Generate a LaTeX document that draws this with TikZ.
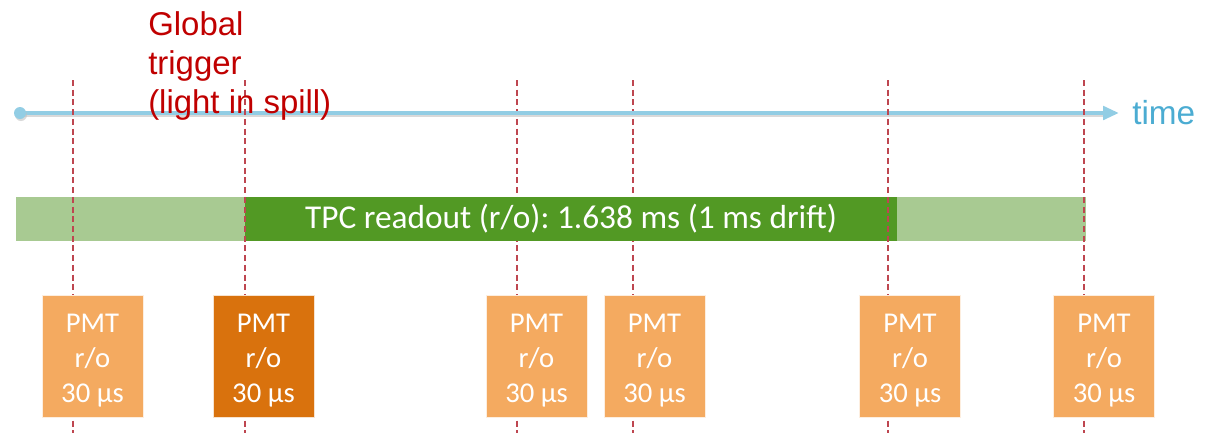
\documentclass[tikz,border=0pt]{standalone}
\usepackage{fontspec}
\setmainfont{Carlito}
\newfontfamily\arialf{Liberation Sans}
\usetikzlibrary{arrows.meta}
\frenchspacing
\definecolor{tlblue}{RGB}{146,205,228}
\definecolor{timeblue}{RGB}{75,172,210}
\definecolor{trigred}{RGB}{192,0,0}
\definecolor{dashred}{RGB}{190,70,80}
\definecolor{lightgreen}{RGB}{168,202,146}
\definecolor{darkgreen}{RGB}{82,153,36}
\definecolor{lightorange}{RGB}{244,170,96}
\definecolor{darkorange}{RGB}{217,114,13}
\tikzset{
  bar/.style={rectangle, inner sep=0pt, minimum height=33pt},
  pmtbox/.style={rectangle, inner sep=0pt, minimum width=75.75pt, minimum height=91.5pt,
    draw=white!80!lightorange, line width=0.6pt},
  pmttext/.style={text=white, align=center, inner sep=0pt,
    font=\fontsize{21.5}{26.5}\selectfont},
  marker/.style={draw=dashred, line width=1.4pt, dash pattern=on 4.5pt off 2.8pt},
}
\begin{document}
\begin{tikzpicture}[x=0.75pt,y=-0.75pt]
\useasboundingbox (0,0) rectangle (1209,433);
% markers end points
\foreach \i/\x in {1/73,2/245,3/517,4/633,5/888,6/1084}{
  \coordinate (m\i t) at (\x,80);
  \coordinate (m\i b) at (\x,433);
}
% readout bars
\node[bar, fill=lightgreen, minimum width=802.5pt] (tpcall) at (551,219) {};
\draw[marker] (m3t) -- (m3b);
\draw[marker] (m4t) -- (m4b);
\node[bar, fill=darkgreen, minimum width=489pt, text=white, font=\fontsize{25}{30}\selectfont] (tpc) at (571,219) {TPC readout (r/o): 1.638 ms (1 ms drift)};
% time axis
\coordinate (t0) at (20,113);
\coordinate (t1) at (1119,113);
\draw[black!25, opacity=0.6, line width=3pt] ([shift={(1,2)}]t0) -- ([shift={(-10,2)}]t1);
\draw[tlblue, line width=3pt, -{Triangle[length=12pt,width=10pt]}] (t0) -- (t1);
\fill[black!25, opacity=0.6] ([shift={(1,2)}]t0) circle (4.5pt);
\fill[tlblue] (t0) circle (4.5pt);
\node[anchor=west, text=timeblue, font=\arialf\fontsize{25}{30}\selectfont, inner sep=0pt] (time) at (1132,113) {time};
% remaining markers
\foreach \i in {1,2,5,6}{
  \draw[marker] (m\i t) -- (m\i b);
}
% PMT boxes
\foreach \i/\x/\c in {1/92.5/lightorange,2/263.5/darkorange,3/536.5/lightorange,4/654.5/lightorange,5/910/lightorange,6/1104/lightorange}{
  \node[pmtbox, fill=\c, draw=white!80!\c] (p\i) at (\x,356) {};
  \node[pmttext] (p\i txt) at ([yshift=-3.4pt]p\i.center) {PMT\\r/o\\30 µs};
}
% trigger label
\node[anchor=north west, text=trigred, align=left, inner sep=0pt,
  font=\arialf\fontsize{24.7}{29.2}\selectfont] (trig) at (148,11) {Global\\trigger\\(light in spill)};
\end{tikzpicture}
\end{document}
